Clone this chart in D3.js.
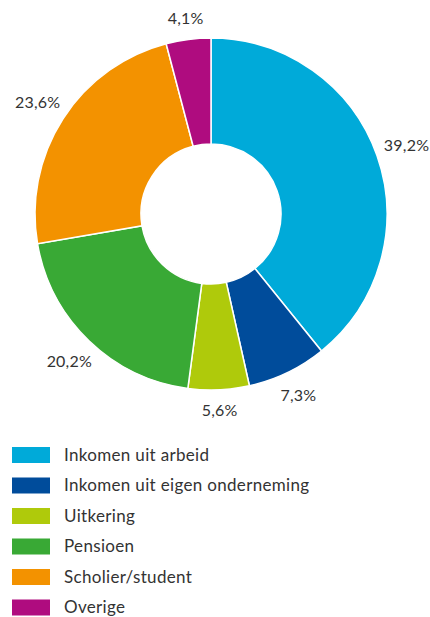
<!DOCTYPE html>
<html>
<head>
<meta charset="utf-8">
<script src="https://cdn.jsdelivr.net/npm/d3@7"></script>
<style>
	body { margin: 0; background: #fff; }
	svg text { font-family: Lato, "Open Sans", sans-serif; fill: #333; }
</style>
</head>
<body>
<div id="Chart"></div>
<script>
var categories = ["Inkomen uit arbeid", "Inkomen uit eigen onderneming", "Uitkering", "Pensioen", "Scholier/student", "Overige"];
var values = [39.2, 7.3, 5.6, 20.2, 23.6, 4.1];
var valueLabels = ["39,2%", "7,3%", "5,6%", "20,2%", "23,6%", "4,1%"];
var colors = ["#00aad9", "#004c9b", "#afca0b", "#39a935", "#f39200", "#af0c7f"];

var width = 430, height = 617;
var cx = 211, cy = 214, outerR = 176, innerR = 70;

var svg = d3.select("#Chart")
	.append("svg")
	.attr("width", width)
	.attr("height", height);

var color = d3.scaleOrdinal().domain(categories).range(colors);

var pie = d3.pie().sort(null).value(function(d, i) { return values[i]; });
var arcs = pie(categories);

var arc = d3.arc().innerRadius(innerR).outerRadius(outerR);

var g = svg.append("g").attr("transform", "translate(" + cx + "," + cy + ")");

g.selectAll("path")
	.data(arcs)
	.enter()
	.append("path")
	.attr("d", arc)
	.attr("fill", function(d) { return color(d.data); })
	.attr("stroke", "#fff")
	.attr("stroke-width", 1.5);

// labels sit a bit further out where the text is wide sideways
g.selectAll("text.val")
	.data(arcs)
	.enter()
	.append("text")
	.attr("class", "val")
	.attr("transform", function(d) {
		var a = (d.startAngle + d.endAngle) / 2;
		var r = 196 + 12 * Math.abs(Math.sin(a));
		return "translate(" + (Math.sin(a) * r) + "," + (-Math.cos(a) * r) + ")";
	})
	.attr("text-anchor", "middle")
	.attr("dy", "0.35em")
	.style("font-size", "16px")
	.style("letter-spacing", "0.2px")
	.text(function(d, i) { return valueLabels[i]; });

// legend
var legendY = d3.scaleBand().domain(categories).range([447, 630]).paddingInner(0);

var legend = svg.selectAll("g.legend")
	.data(categories)
	.enter()
	.append("g")
	.attr("class", "legend")
	.attr("transform", function(d) { return "translate(12," + legendY(d) + ")"; });

legend.append("rect")
	.attr("width", 38)
	.attr("height", 16)
	.attr("fill", function(d) { return color(d); });

legend.append("text")
	.attr("x", 52)
	.attr("y", 8)
	.attr("dy", "0.35em")
	.style("font-size", "17px")
	.style("letter-spacing", "0.33px")
	.text(function(d) { return d; });
</script>
</body>
</html>
